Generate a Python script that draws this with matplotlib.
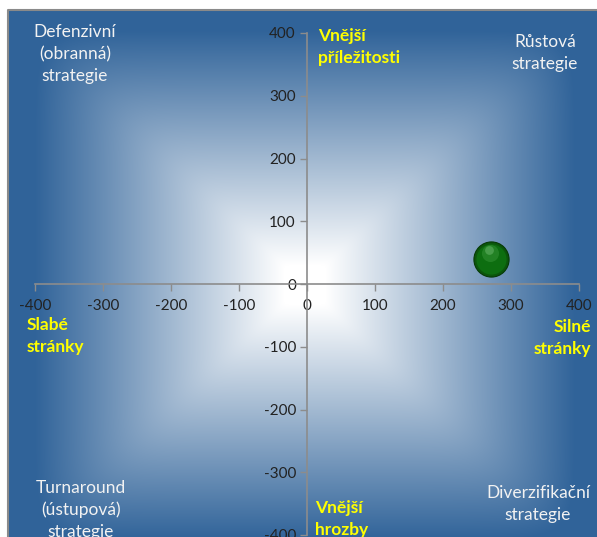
import numpy as np
import matplotlib
matplotlib.use("Agg")
import matplotlib.pyplot as plt
from matplotlib import transforms

plt.rcParams['font.family'] = ['Lato', 'DejaVu Sans']
plt.rcParams['axes.unicode_minus'] = False

# SWOT position of the company
silne_slabe = [270]      # strengths vs. weaknesses
prilezitosti_hrozby = [40]  # opportunities vs. threats

tiky = [-400, -300, -200, -100, 0, 100, 200, 300, 400]

strategie = ["Defenzivní\n(obranná)\nstrategie", "Růstová\nstrategie",
             "Turnaround\n(ústupová)\nstrategie", "Diverzifikační\nstrategie"]
osy_popisky = ["Vnější\npříležitosti", "Slabé\nstránky", "Silné\nstránky", "Vnější\nhrozby"]

W, H = 597, 537
fig = plt.figure(figsize=(W / 100, H / 100), dpi=100)
fig.patch.set_facecolor("white")

# background: rectangular-ish gradient, white in the middle, blue at the edges
bg = fig.add_axes([0, 0, 1, 1])
bg.set_xlim(0, W)
bg.set_ylim(H, 0)
bg.axis("off")
x0, x1, y0, y1 = 8, 600, 10, 565
cx, cy = 305, 285
xs = np.arange(x0, x1) + 0.5
ys = np.arange(y0, y1) + 0.5
X, Y = np.meshgrid(xs, ys)
p = 12
t = ((np.abs(X - cx) / (cx - x0)) ** p + (np.abs(Y - cy) / (y1 - cy)) ** p) ** (1 / p)
f = np.clip((t - 0.07) / 0.84, 0, 1)[..., None]
modra = np.array([0x30, 0x63, 0x99]) / 255
obr = (1 - f) * np.ones(3) + f * modra
bg.imshow(obr, extent=[x0, x1, y1, y0], interpolation="bilinear", aspect="auto", zorder=0)
bg.plot([x0, x0, W], [H, y0, y0], color="#8a8a8a", lw=1.5, zorder=1)

# main chart axes with the axes crossing at zero
ax = fig.add_axes([35 / W, 2 / H, 544 / W, 502 / H])
ax.patch.set_alpha(0)
ax.set_xlim(-400, 400)
ax.set_ylim(-400, 400)
for s in ["top", "right"]:
    ax.spines[s].set_visible(False)
for s in ["left", "bottom"]:
    ax.spines[s].set_position("zero")
    ax.spines[s].set_color("#8c8c8c")
    ax.spines[s].set_linewidth(1.2)
ax.set_xticks(tiky)
ax.set_yticks(tiky)
ax.tick_params(axis="x", direction="out", length=5, width=1, color="#8c8c8c",
               labelsize=11, labelcolor="#222222", pad=6)
ax.tick_params(axis="y", direction="out", length=5, width=1, color="#8c8c8c",
               labelsize=11, labelcolor="#222222", pad=3)

# 3D-looking green bubble
ax.scatter(silne_slabe, prilezitosti_hrozby, s=640, color="#0b560b", zorder=5,
           edgecolors="#063a06", linewidths=0.8)
ax.scatter(silne_slabe, prilezitosti_hrozby, s=470, color="#0d6e10", zorder=6, lw=0)
posun = transforms.offset_copy(ax.transData, fig=fig, x=-1, y=6, units="dots")
ax.scatter(silne_slabe, prilezitosti_hrozby, s=150, marker="o", color="#3d9a3d",
           alpha=0.45, zorder=7, lw=0, transform=posun)
posun2 = transforms.offset_copy(ax.transData, fig=fig, x=-2, y=9, units="dots")
ax.scatter(silne_slabe, prilezitosti_hrozby, s=40, marker="o", color="#8fcf8f",
           alpha=0.35, zorder=8, lw=0, transform=posun2)

# quadrant strategy labels
bila = "#f2f2f2"
pozice_strategie = [(75, 54), (545, 53), (81, 510), (538, 504)]
for txt, (px, py) in zip(strategie, pozice_strategie):
    bg.text(px, py, txt, color=bila, fontsize=12.5, ha="center", va="center",
            linespacing=1.45, zorder=3)

# yellow axis labels
pozice_os = [(318, 47, "left"), (27, 336, "left"), (591, 338, "right"), (315, 519, "left")]
for txt, (px, py, zar) in zip(osy_popisky, pozice_os):
    bg.text(px, py, txt, color="#ffff00", fontsize=12.5, fontweight="bold",
            ha=zar, va="center", linespacing=1.45, zorder=3)

fig.savefig("out.png", dpi=100)
